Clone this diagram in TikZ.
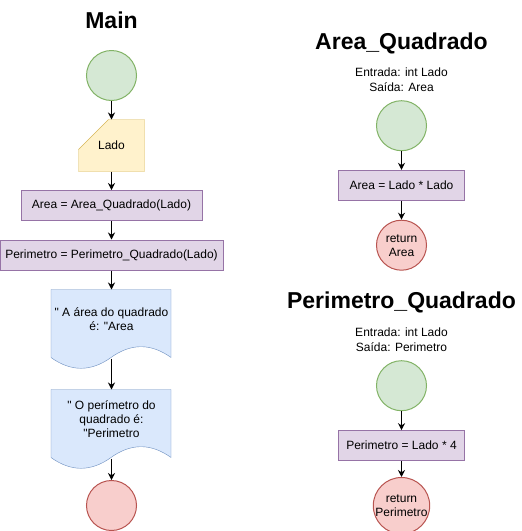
\documentclass[tikz,border=0pt]{standalone}
\usepackage{fontspec}
\setmainfont{Liberation Sans}
\usetikzlibrary{arrows.meta,backgrounds}

\definecolor{greenfill}{HTML}{D5E8D4}
\definecolor{greenline}{HTML}{82B366}
\definecolor{yellowfill}{HTML}{FFF2CC}
\definecolor{yellowline}{HTML}{D6B656}
\definecolor{purplefill}{HTML}{E1D5E7}
\definecolor{purpleline}{HTML}{9673A6}
\definecolor{bluefill}{HTML}{DAE8FC}
\definecolor{blueline}{HTML}{6C8EBF}
\definecolor{redfill}{HTML}{F8CECC}
\definecolor{redline}{HTML}{B85450}

\tikzset{
  begincirc/.style={circle, draw=greenline, fill=greenfill, minimum size=50pt, inner sep=0pt},
  endcirc/.style={circle, draw=redline, fill=redfill, minimum size=50pt, inner sep=0pt, align=center},
  procbox/.style={rectangle, draw=purpleline, fill=purplefill, minimum height=30pt, inner sep=0pt},
  docbox/.style={rectangle, minimum width=120pt, minimum height=58pt, inner sep=0pt, align=center},
  cardbox/.style={rectangle, minimum width=65pt, minimum height=51pt, inner sep=0pt},
  title/.style={font=\fontsize{23}{27}\selectfont\bfseries, anchor=base},
  info/.style={align=center, font=\fontsize{12}{15}\selectfont},
}

\begin{document}
\begin{tikzpicture}[x=1pt, y=-1pt, line width=1pt, font=\fontsize{12}{14}\selectfont]

      \useasboundingbox (0,0) rectangle (522,531);

      \begin{scope}
        \node[title] (tm) at (111.5,28.3) {Main};
        \node[begincirc] (m1) at (111.5,75.5) {};
        \node[cardbox] (m2) at (111.5,145.5) {Lado};
        \node[procbox, minimum width=181pt] (m3) at (111.5,205.5) {Area = Area\_Quadrado(Lado)};
        \node[procbox, minimum width=223pt] (m4) at (111.5,255) {Perimetro = Perimetro\_Quadrado(Lado)};
        \node[docbox] (m5) at (111.5,319) {\textquotedbl{} A área do quadrado\\é: \textquotedbl{}Area};
        \node[docbox] (m6) at (111.5,419) {\textquotedbl{} O perímetro do\\quadrado é:\\\textquotedbl{}Perimetro};
        \node[endcirc] (m7) at (111.5,505.5) {};
      \end{scope}

      \begin{scope}
        \node[title] (ta) at (401.5,49.3) {Area\_Quadrado};
        \node[info] (ia) at (401.5,80.2) {Entrada: int Lado\\Saída: Area};
        \node[begincirc] (a1) at (401.5,125.7) {};
        \node[procbox, minimum width=125.6pt] (a2) at (401.5,185.3) {Area = Lado * Lado};
        \node[endcirc] (a3) at (401.5,245.2) {return\\Area};

        \node[title] (tp) at (401.5,308.3) {Perimetro\_Quadrado};
        \node[info] (ip) at (401.5,340) {Entrada: int Lado\\Saída: Perimetro};
        \node[begincirc] (p1) at (401.5,385.7) {};
        \node[procbox, minimum width=125.6pt] (p2) at (401.5,445.7) {Perimetro = Lado * 4};
        \node[endcirc] (p3) at (401.5,505.7) {return\\Perimetro};
      \end{scope}

      \begin{scope}[on background layer]
        \filldraw[draw=yellowline, fill=yellowfill] ([xshift=30pt]m2.north west) -- (m2.north east)
          -- (m2.south east) -- (m2.south west) -- ([yshift=-30pt]m2.north west) -- cycle;
        \filldraw[draw=blueline, fill=bluefill, shift={(m5.north west)}] (0,0) -- (120,0) -- (120,68)
          .. controls (100,53.6) and (80,53.6) .. (60,68) .. controls (40,82.4) and (20,82.4) .. (0,68) -- cycle;
        \filldraw[draw=blueline, fill=bluefill, shift={(m6.north west)}] (0,0) -- (120,0) -- (120,68)
          .. controls (100,53.6) and (80,53.6) .. (60,68) .. controls (40,82.4) and (20,82.4) .. (0,68) -- cycle;
      \end{scope}

      \begin{scope}[every edge/.style={draw, -{Stealth[length=7pt, width=7pt]}}]
        \path (m1) edge (m2);
        \path (m2) edge (m3);
        \path (m3) edge (m4);
        \path (m4) edge (m5);
        \path ([yshift=-10pt]m5.south) edge (m6);
        \path ([yshift=-10pt]m6.south) edge (m7);
        \path (a1) edge (a2);
        \path (a2) edge (a3);
        \path (p1) edge (p2);
        \path (p2) edge (p3);
      \end{scope}

    \end{tikzpicture}
\end{document}
